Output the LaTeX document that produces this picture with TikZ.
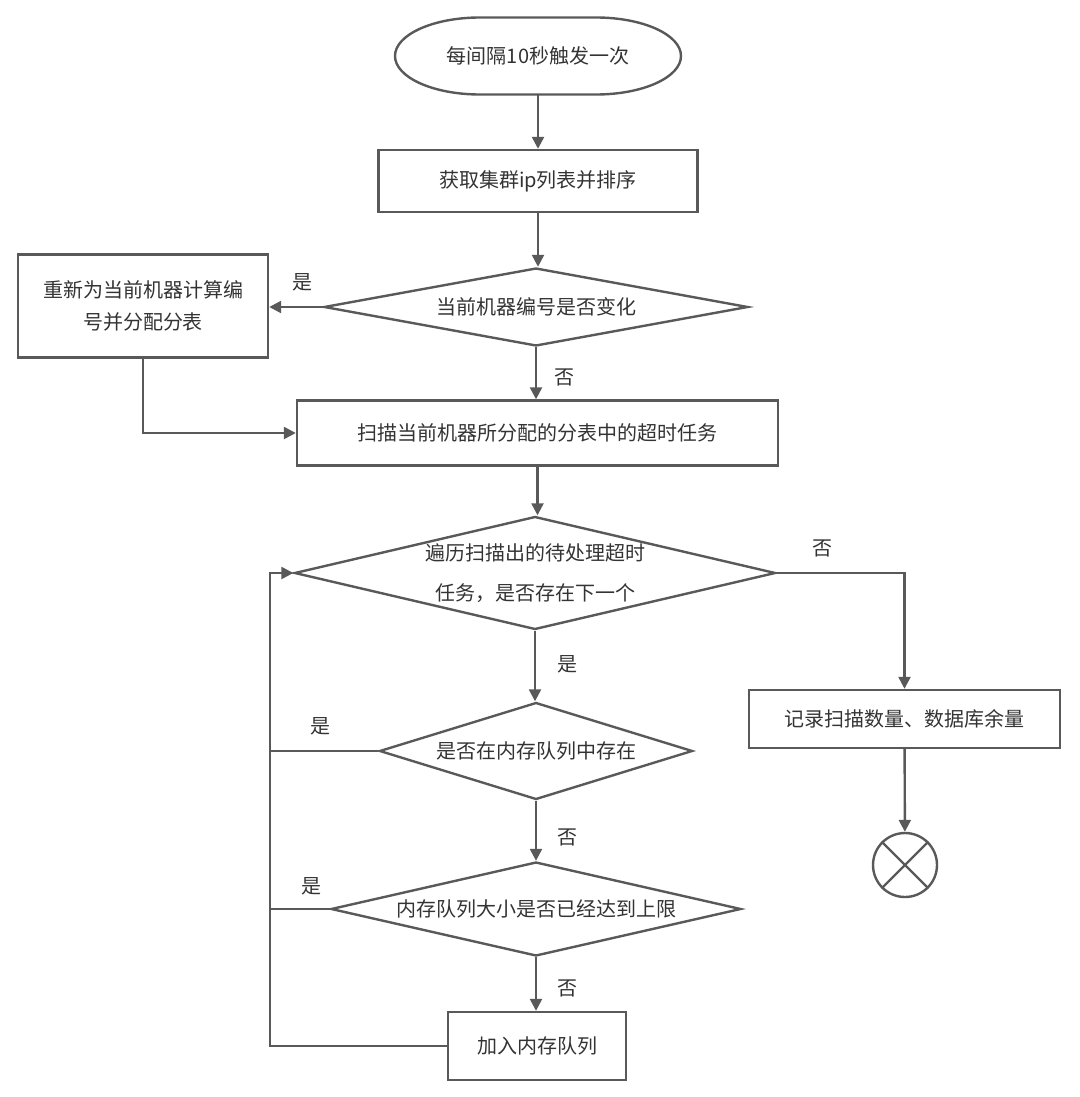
\documentclass[tikz,border=0pt]{standalone}
\usepackage{fontspec}
\setmainfont{Noto Sans CJK SC}
\usetikzlibrary{shapes.geometric,arrows.meta}
\definecolor{linegray}{HTML}{595959}
\definecolor{textgray}{HTML}{333333}

\begin{document}
\begin{tikzpicture}[x=0.5pt, y=-0.5pt, >={Triangle[length=6pt,width=6pt]},
  every node/.style={text=textgray, font=\fontsize{10pt}{16pt}\selectfont},
  box/.style={draw=linegray, line width=1.2pt, rectangle, inner sep=0pt, align=center},
  decision/.style={draw=linegray, line width=1.2pt, diamond, inner sep=0pt, align=center},
  flow/.style={draw=linegray, line width=1.2pt},
  lbl/.style={inner sep=0pt}]
  \useasboundingbox (0,0) rectangle (1080,1097);

  % main column
  \node (start) [minimum width=143pt, minimum height=38.5pt] at (538,56) {每间隔10秒触发一次};
  \draw[flow] ([shift={(-58,-38.5)}]start.center) -- ++(116,0)
    arc[start angle=-90, end angle=90, x radius=85, y radius=38.5] -- ++(-116,0)
    arc[start angle=90, end angle=270, x radius=85, y radius=38.5] -- cycle;
  \node[box, minimum width=159.5pt, minimum height=31pt] (fetch) at (538,181) {获取集群ip列表并排序};
  \node[decision, minimum width=212pt, minimum height=39pt, aspect=5.4] (chk) at (536,307) {当前机器编号是否变化};
  \node[box, minimum width=125pt, minimum height=51.5pt] (reassign) at (143,306) {重新为当前机器计算编\\号并分配分表};
  \node[box, minimum width=240.5pt, minimum height=32.5pt] (scan) at (537.5,433) {扫描当前机器所分配的分表中的超时任务};
  \node[decision, minimum width=240.5pt, minimum height=56.5pt, aspect=4.26,
    font=\fontsize{10pt}{20pt}\selectfont] (loop) at (535,573) {遍历扫描出的待处理超时\\任务，是否存在下一个};
  \node[decision, minimum width=156.5pt, minimum height=48.5pt, aspect=3.2] (inq) at (536,751) {是否在内存队列中存在};
  \node[decision, minimum width=205pt, minimum height=47pt, aspect=4.36] (full) at (536,909) {内存队列大小是否已经达到上限};
  \node[box, minimum width=89pt, minimum height=34pt] (push) at (537,1046) {加入内存队列};

  % right branch
  \node[box, minimum width=155.5pt, minimum height=29pt] (record) at (904.5,719) {记录扫描数量、数据库余量};
  \node[draw=linegray, line width=1.2pt, circle, minimum size=32pt, inner sep=0pt] (endc) at (905,865) {};
  \draw[flow] (endc.north west) -- (endc.south east);
  \draw[flow] (endc.north east) -- (endc.south west);

  \coordinate (lp) at (270,573);

  \draw[flow, ->] (start) -- (fetch);
  \draw[flow, ->] (fetch) -- (fetch.south |- chk.north);
  \draw[flow, ->] (chk.west) -- (reassign.east |- chk.west);
  \draw[flow, ->] (chk.south) -- (chk.south |- scan.north);
  \draw[flow, ->] (reassign.south) |- (scan.west);
  \draw[flow, ->] (scan.south) -- (scan.south |- loop.north);
  \draw[flow, ->] (loop.east) -| (record.north);
  \draw[flow, ->] (record) -- (endc);
  \draw[flow, ->] (loop.south) -- (loop.south |- inq.north);
  \draw[flow, ->] (inq.south) -- (inq.south |- full.north);
  \draw[flow, ->] (full.south) -- (full.south |- push.north);
  \draw[flow] (inq.west) -- (inq.west -| lp);
  \draw[flow] (full.west) -- (full.west -| lp);
  \draw[flow, ->] (push.west) -| (lp) -- (loop.west);

  % yes / no labels
  \node[lbl] (yesA) at (302,282) {是};
  \node[lbl] (noA) at (564,377) {否};
  \node[lbl] (noB) at (822,548) {否};
  \node[lbl] (yesB) at (567,664) {是};
  \node[lbl] (yesC) at (320,726) {是};
  \node[lbl] (noC) at (567,837) {否};
  \node[lbl] (yesD) at (311,886) {是};
  \node[lbl] (noD) at (567,988) {否};
\end{tikzpicture}
\end{document}
